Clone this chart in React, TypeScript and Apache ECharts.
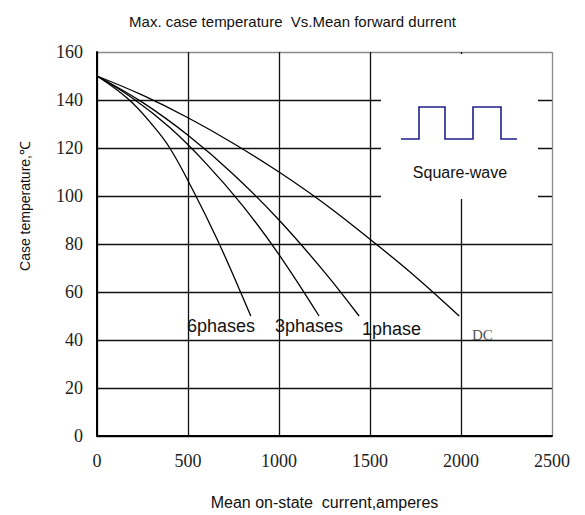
import React, { useEffect, useRef } from "react";
import * as echarts from "echarts";

const titleText = "Max. case temperature  Vs.Mean forward durrent";
const xAxisName = "Mean on-state  current,amperes";
const yAxisName = "Case temperature,℃";

const dcData: number[][] = [[0, 150], [250, 142], [500, 132.6], [750, 121.9], [1000, 110], [1250, 96.8], [1500, 82], [1750, 66.4], [1990, 50]];
const onePhaseData: number[][] = [[0, 150], [250, 139], [500, 125.3], [750, 109], [1000, 90], [1250, 68.3], [1440, 50]];
const threePhaseData: number[][] = [[0, 150], [200, 140.5], [400, 128.5], [600, 113.5], [800, 96], [1000, 75.6], [1220, 50]];
const sixPhaseData: number[][] = [[0, 150], [170, 140.5], [300, 130], [400, 120], [530, 102], [660, 82], [780, 61.5], [845, 50]];

const seriesNames = ["DC", "1phase", "3phases", "6phases"];

export default function App() {
  const ref = useRef<HTMLDivElement>(null);
  useEffect(() => {
    if (!ref.current) return;
    const chart = echarts.init(ref.current, null, { renderer: "svg" });
    const ySplitColors = ["#111", "#111", "#111", "#111", "#111", "#111", "#111", "#111", "#8a8a8a"];
    const xSplitColors = ["#111", "#111", "#111", "#111", "#111", "#8a8a8a"];
    const mkSeries = (name: string, data: number[][]) => ({
      name,
      type: "line",
      data,
      smooth: 0.4,
      showSymbol: false,
      symbol: "none",
      lineStyle: { color: "#000", width: 1.3 },
      z: 5,
    });
    chart.setOption({
      animation: false,
      backgroundColor: "#fff",
      title: {
        text: titleText,
        left: "center",
        top: 9,
        textStyle: { fontFamily: "Liberation Sans", fontSize: 15, fontWeight: "normal", color: "#111" },
      },
      grid: { left: 97, right: 33, top: 52, bottom: 76 },
      xAxis: {
        type: "value",
        min: 0,
        max: 2500,
        interval: 500,
        name: xAxisName,
        nameLocation: "middle",
        nameGap: 58,
        nameTextStyle: { fontFamily: "Liberation Sans", fontSize: 16, color: "#111" },
        axisLine: { show: true, lineStyle: { color: "#000", width: 2 } },
        axisTick: { show: false },
        axisLabel: { margin: 16, fontFamily: "Liberation Serif", fontSize: 18, color: "#222", formatter: (v: number) => String(v) },
        splitLine: { show: true, lineStyle: { color: xSplitColors, width: 1.3 } },
      },
      yAxis: {
        type: "value",
        min: 0,
        max: 160,
        interval: 20,
        axisLine: { show: true, lineStyle: { color: "#000", width: 2 } },
        axisTick: { show: false },
        axisLabel: { margin: 14, fontFamily: "Liberation Serif", fontSize: 18, color: "#222", formatter: (v: number) => String(v) },
        splitLine: { show: true, lineStyle: { color: ySplitColors, width: 1.3 } },
      },
      series: [
        mkSeries(seriesNames[0], dcData),
        mkSeries(seriesNames[1], onePhaseData),
        mkSeries(seriesNames[2], threePhaseData),
        mkSeries(seriesNames[3], sixPhaseData),
      ],
      graphic: [
        { type: "rect", z: 20, shape: { x: 381, y: 54, width: 157, height: 145 }, style: { fill: "#fff" } },
        {
          type: "polyline",
          z: 21,
          shape: {
            points: [[401, 139], [419, 139], [419, 107], [445, 107], [445, 139], [473, 139], [473, 107], [501, 107], [501, 139], [517, 139]],
          },
          style: { stroke: "#1f1f8c", lineWidth: 1.6, fill: null },
        },
        { type: "text", z: 21, x: 460, y: 172, style: { text: "Square-wave", fontFamily: "Liberation Sans", fontSize: 16, fill: "#111", align: "center", verticalAlign: "middle" } },
        { type: "text", z: 21, x: 25, y: 206, rotation: Math.PI / 2, style: { text: yAxisName, fontFamily: "Liberation Sans", fontSize: 14, fill: "#111", align: "center", verticalAlign: "middle" } },
        { type: "text", z: 21, x: 187, y: 326, style: { text: "6phases", fontFamily: "Liberation Sans", fontSize: 18, fill: "#111", align: "left", verticalAlign: "middle" } },
        { type: "text", z: 21, x: 275, y: 326, style: { text: "3phases", fontFamily: "Liberation Sans", fontSize: 18, fill: "#111", align: "left", verticalAlign: "middle" } },
        { type: "text", z: 21, x: 362, y: 329, style: { text: "1phase", fontFamily: "Liberation Sans", fontSize: 18, fill: "#111", align: "left", verticalAlign: "middle" } },
        { type: "text", z: 21, x: 472, y: 335, style: { text: "DC", fontFamily: "Liberation Serif", fontSize: 15, fill: "#555", align: "left", verticalAlign: "middle" } },
      ],
    });
    return () => chart.dispose();
  }, []);
  return <div ref={ref} style={{ position: "fixed", left: 0, top: 0, width: 585, height: 515 }} />;
}
